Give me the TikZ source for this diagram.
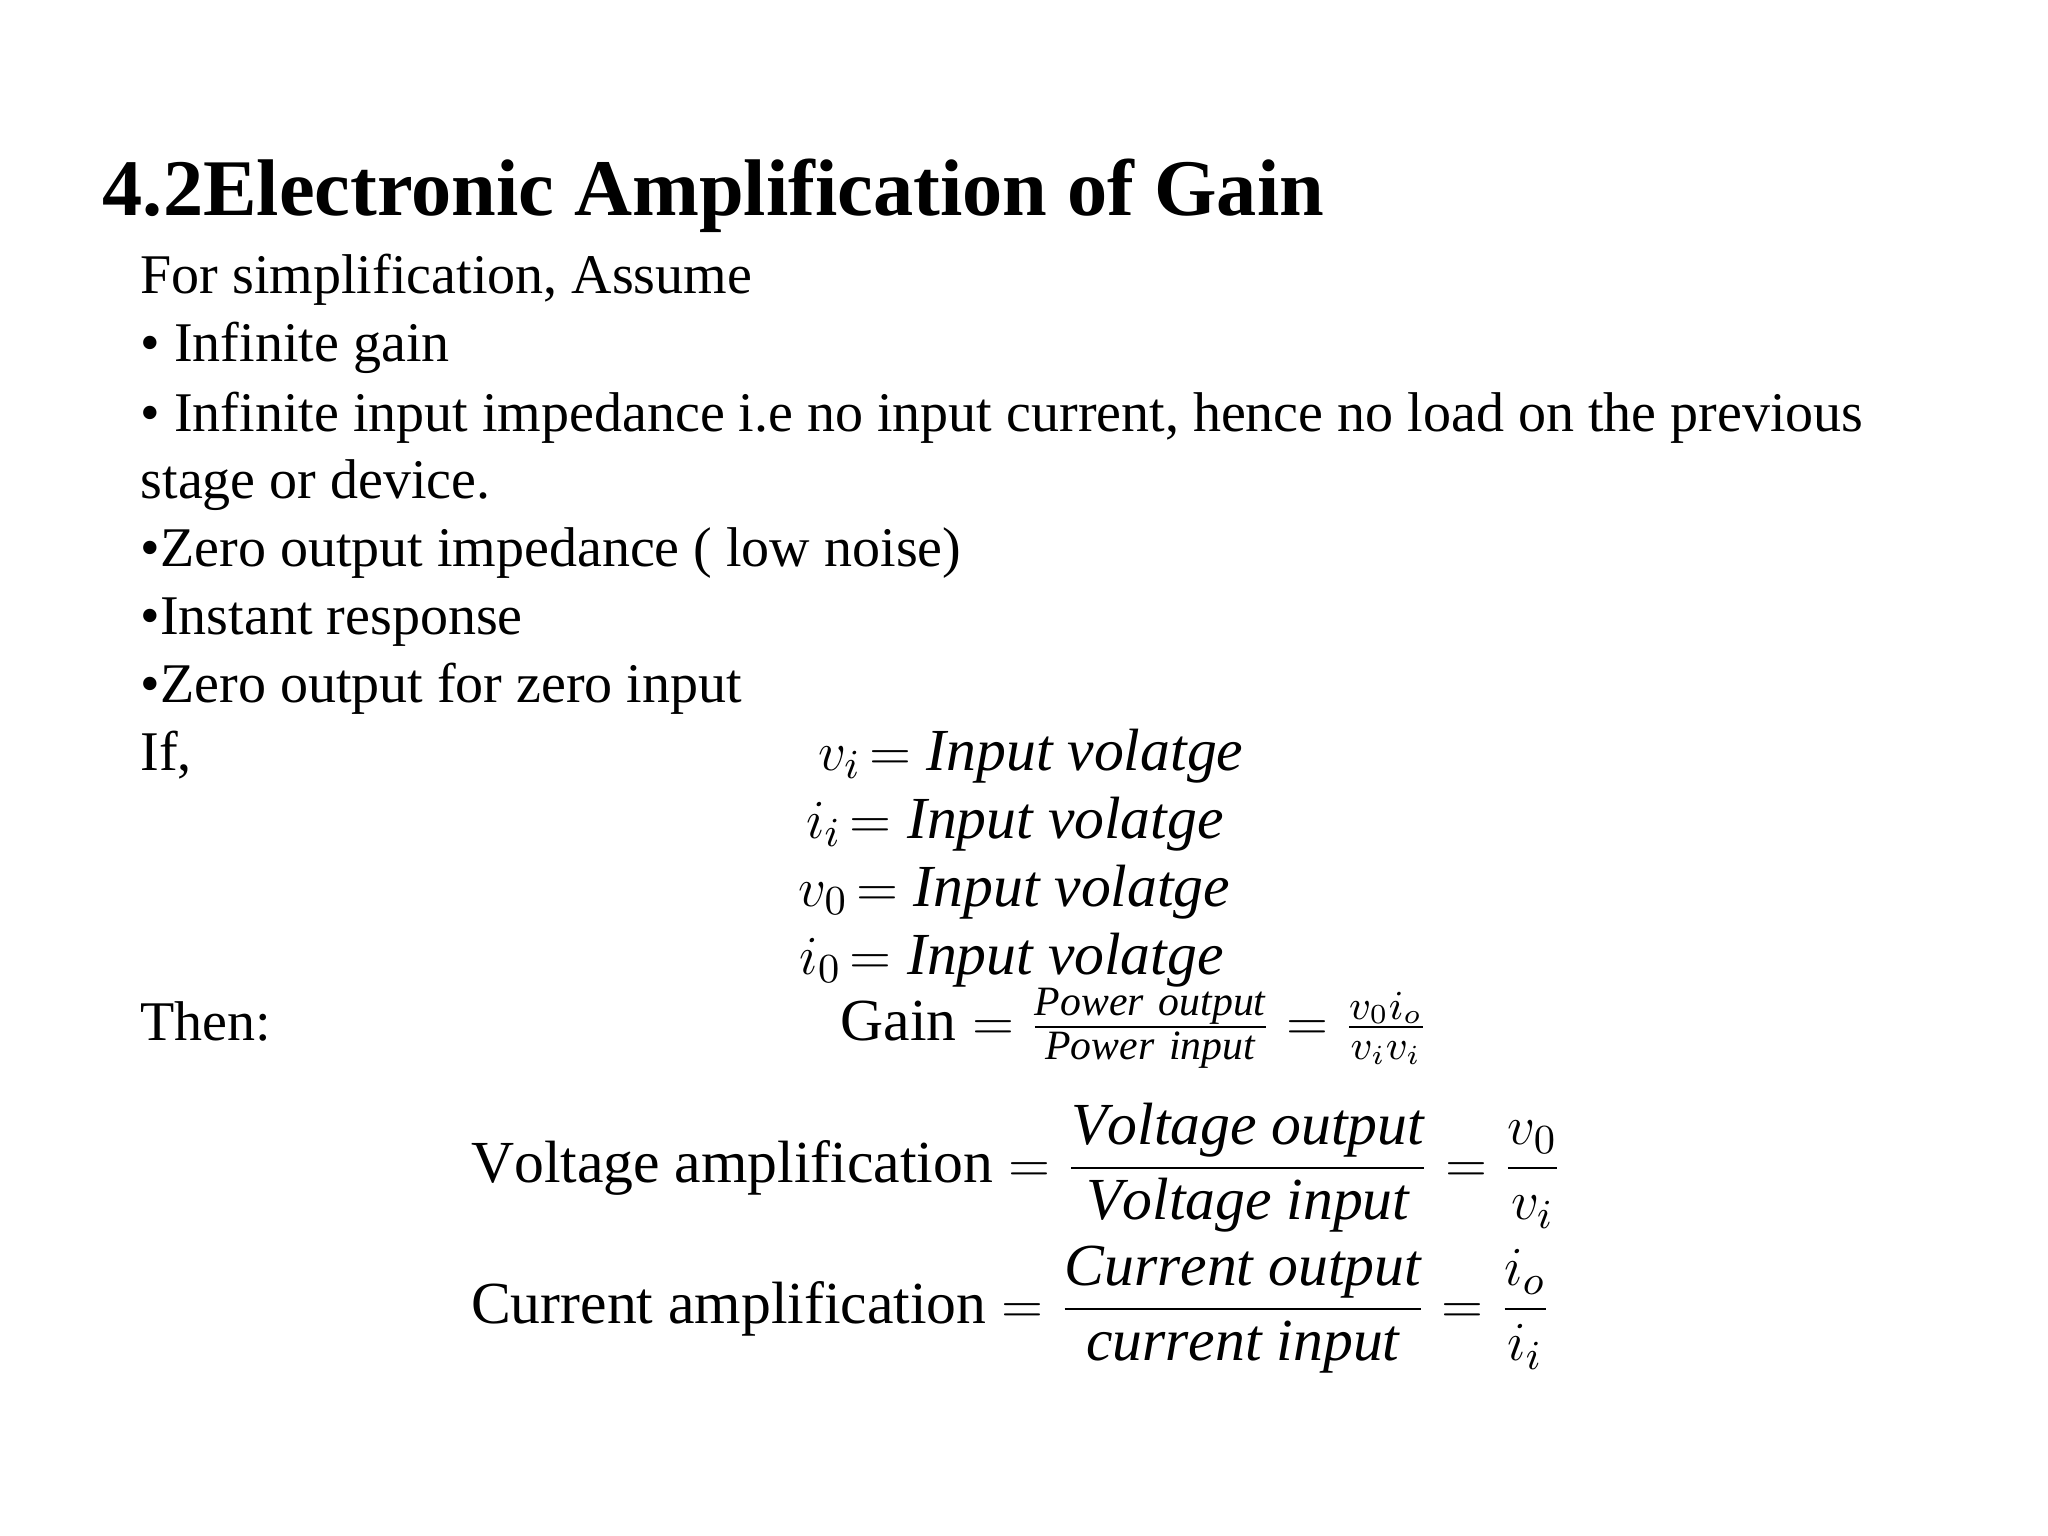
\documentclass[tikz,border=0pt]{standalone}
\usepackage{fontspec}
\setmainfont{Liberation Serif}
\begin{document}
\begin{tikzpicture}[x=1cm,y=-1cm,
  body/.style={anchor=base west,inner sep=0pt,font=\fontsize{12.2}{14}\selectfont},
  mth/.style={inner sep=0pt,font=\fontsize{13}{15}\selectfont}]
\useasboundingbox (0,0) rectangle (15.68,11.76);
\node[anchor=base west,inner sep=0pt,font=\fontsize{17.5}{20}\selectfont\bfseries] (title) at (0.78,1.65) {4.2Electronic Amplification of Gain};
\node[body] (l1) at (1.07,2.25) {For simplification, Assume};
\node[body] (l2) at (1.07,2.77) {• Infinite gain};
\node[body] (l3) at (1.07,3.30) {• Infinite input impedance i.e no input current, hence no load on the previous};
\node[body] (l4) at (1.07,3.82) {stage or device.};
\node[body] (l5) at (1.07,4.34) {•Zero output impedance ( low noise)};
\node[body] (l6) at (1.07,4.86) {•Instant response};
\node[body] (l7) at (1.07,5.38) {•Zero output for zero input};
\node[body] (l8) at (1.07,5.90) {If,};
\node[body] (l9) at (1.07,7.97) {Then:};
\node[mth,anchor=base east] (a1) at (6.60,5.90) {$v_i$};
\node[mth,anchor=base west] (b1) at (6.65,5.90) {$= \mathit{Input\ volatge}$};
\node[mth,anchor=base east] (a2) at (6.45,6.42) {$i_i$};
\node[mth,anchor=base west] (b2) at (6.50,6.42) {$= \mathit{Input\ volatge}$};
\node[mth,anchor=base east] (a3) at (6.50,6.94) {$v_0$};
\node[mth,anchor=base west] (b3) at (6.55,6.94) {$= \mathit{Input\ volatge}$};
\node[mth,anchor=base east] (a4) at (6.45,7.46) {$i_0$};
\node[mth,anchor=base west] (b4) at (6.50,7.46) {$= \mathit{Input\ volatge}$};
\node[mth,anchor=base west] (g) at (6.43,7.97) {$\mathrm{Gain} = \frac{\mathit{Power\ output}}{\mathit{Power\ input}} = \frac{v_0 i_o}{v_i v_i}$};
\node[mth,anchor=base west] (va) at (3.60,9.05) {$\displaystyle \mathrm{Voltage\ amplification} = \frac{\mathit{Voltage\ output}}{\mathit{Voltage\ input}} = \frac{v_0}{v_i}$};
\node[mth,anchor=base west] (ca) at (3.60,10.13) {$\displaystyle \mathrm{Current\ amplification} = \frac{\mathit{Current\ output}}{\mathit{current\ input}} = \frac{i_o}{i_i}$};
\end{tikzpicture}
\end{document}
